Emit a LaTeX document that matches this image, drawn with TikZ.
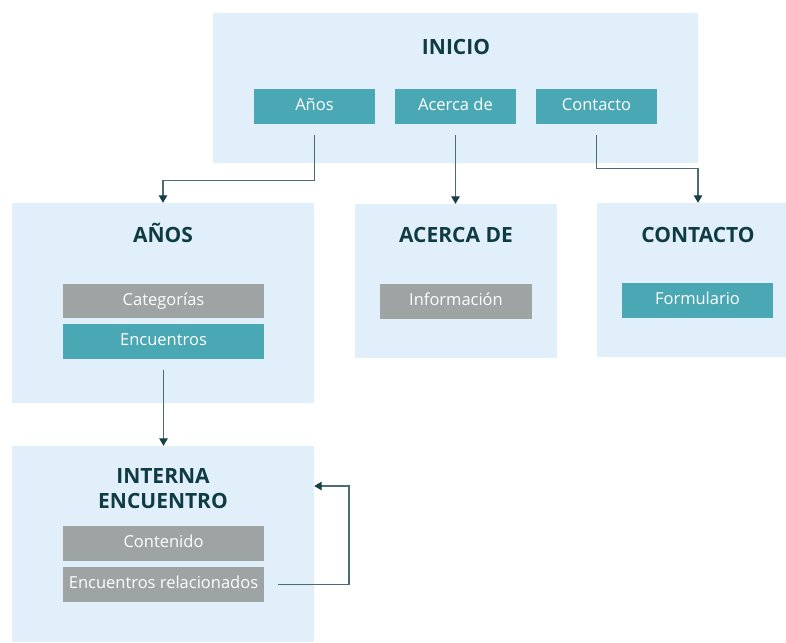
\documentclass[tikz,border=0pt]{standalone}
\usepackage{fontspec}
\setmainfont{Open Sans}
\usetikzlibrary{positioning,arrows.meta}
\definecolor{panelblue}{HTML}{E1EFFB}
\definecolor{btnteal}{HTML}{4AA8B4}
\definecolor{btngray}{HTML}{9EA3A4}
\definecolor{titleink}{HTML}{0F3B43}
\definecolor{linkgray}{HTML}{4A6C72}
\definecolor{arrowink}{HTML}{163F47}

\begin{document}
\begin{tikzpicture}[x=1pt, y=-1pt, node distance=141pt,
    panel/.style={fill=panelblue, inner sep=0pt},
    title/.style={text=titleink, font=\bfseries\fontsize{21}{25}\selectfont, align=center},
    btn/.style={fill=#1, text=white, font=\fontsize{16.5}{19}\selectfont, inner sep=0pt,
        minimum height=35pt, text height=12pt, text depth=3.5pt},
    link/.style={draw=linkgray, line width=1.2pt, shorten <=11pt,
        -{Triangle[width=8.5pt, length=7.5pt, color=arrowink]}}]
                    \clip (0,0) rectangle (786,642);
                    % panels
                    \node (pinicio) [panel, minimum width=485pt, minimum height=150pt] at (455.5,88) {};
                    \node (panos) [panel, minimum width=302pt, minimum height=200pt] at (163,303) {};
                    \node (pacerca) [panel, minimum width=202pt, minimum height=154pt] at (456,281) {};
                    \node (pcontacto) [panel, minimum width=202pt, minimum height=154pt] at (698,280) {};
                    \node (pinterna) [panel, minimum width=302pt, minimum height=196pt] at (163,544) {};
                    % titles
                    \node (tinicio) [title] at (456,47) {INICIO};
                    \node (tanos) [title] at (163,233) {AÑOS};
                    \node (tacerca) [title] at (456,235) {ACERCA DE};
                    \node (tcontacto) [title] at (698,235) {CONTACTO};
                    \node (tinterna) [title] at (163,489) {INTERNA\\ENCUENTRO};
                    % buttons
                    \node (banos) [btn=btnteal, minimum width=121pt] at (314.5,106.5) {Años};
                    \node (bacerca) [btn=btnteal, minimum width=121pt, right of=banos] {Acerca de};
                    \node (bcontacto) [btn=btnteal, minimum width=121pt, right of=bacerca] {Contacto};
                    \node (bcateg) [btn=btngray, minimum width=201pt, minimum height=34pt] at (163.5,301) {Categorías};
                    \node (bencuen) [btn=btnteal, minimum width=201pt, below of=bcateg, node distance=40.5pt] {Encuentros};
                    \node (binfo) [btn=btngray, minimum width=152pt] at (456,301) {Información};
                    \node (bform) [btn=btnteal, minimum width=151pt] at (697.5,300.5) {Formulario};
                    \node (bconten) [btn=btngray, minimum width=201pt] at (163.5,543) {Contenido};
                    \node (brelac) [btn=btngray, minimum width=201pt, below of=bconten, node distance=41.5pt] {Encuentros relacionados};
                    % connectors
                    \draw [link] (banos.south) -- ++(0,56) -| (panos.north);
                    \draw [link] (bacerca.south) -- (bacerca.south |- pacerca.north);
                    \draw [link] (bcontacto.south) -- ++(0,44) -| (pcontacto.north);
                    \draw [link] (bencuen.south) -- (bencuen.south |- pinterna.north);
                    \coordinate (lazo) at (349,486);
                    \draw [link, shorten <=14pt] (brelac.east) -| (lazo) -- (lazo -| pinterna.east);
                \end{tikzpicture}
\end{document}
